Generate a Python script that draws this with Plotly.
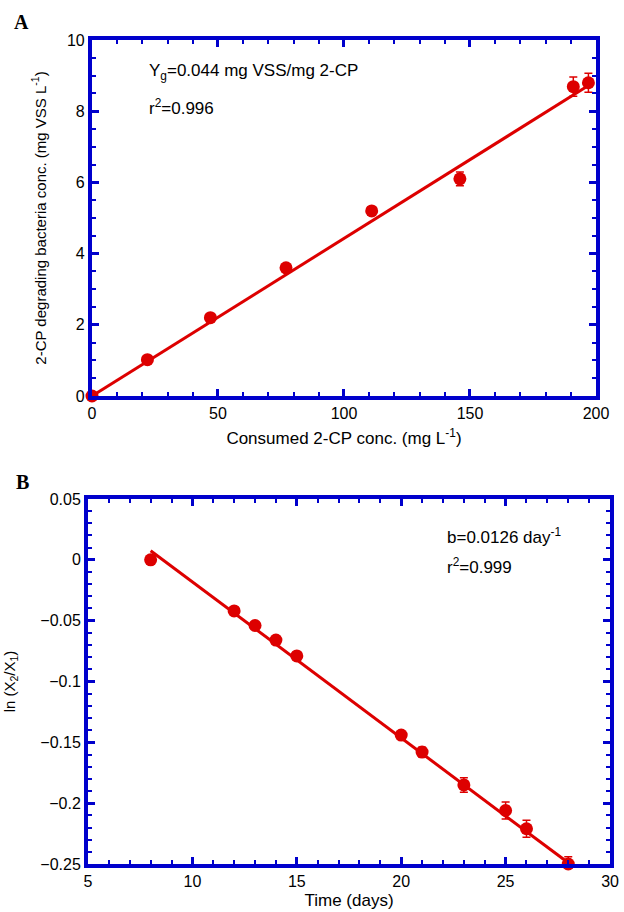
import plotly.graph_objects as go

# Panel A data
a_x = [0, 22, 47, 77, 111, 146, 191, 197]
a_y = [0.0, 1.02, 2.2, 3.6, 5.2, 6.1, 8.69, 8.8]
a_err = [0.0, 0.05, 0.06, 0.06, 0.12, 0.19, 0.27, 0.27]
a_fit_x = [0, 197]
a_fit_y = [0.0, 8.72]

# Panel B data
b_x = [8, 12, 13, 14, 15, 20, 21, 23, 25, 26, 28]
b_y = [0.0, -0.042, -0.054, -0.066, -0.079, -0.144, -0.158, -0.185, -0.206, -0.221, -0.25]
b_err = [0.0, 0.001, 0.001, 0.001, 0.001, 0.003, 0.004, 0.006, 0.007, 0.007, 0.006]
b_fit_x = [8, 28]
b_fit_y = [0.0075, -0.249]

RED = "#DD0000"
BLUE = "#0000CC"
FONT = "Liberation Sans, Arial, sans-serif"

fig = go.Figure()

fig.add_trace(go.Scatter(x=a_fit_x, y=a_fit_y, mode="lines",
                         line=dict(color=RED, width=3), xaxis="x", yaxis="y",
                         showlegend=False, cliponaxis=False))
fig.add_trace(go.Scatter(x=a_x, y=a_y, mode="markers",
                         marker=dict(color=RED, size=13),
                         error_y=dict(type="data", array=a_err, color=RED, thickness=1.5, width=4),
                         xaxis="x", yaxis="y", showlegend=False, cliponaxis=False))
fig.add_trace(go.Scatter(x=b_fit_x, y=b_fit_y, mode="lines",
                         line=dict(color=RED, width=3), xaxis="x2", yaxis="y2",
                         showlegend=False, cliponaxis=False))
fig.add_trace(go.Scatter(x=b_x, y=b_y, mode="markers",
                         marker=dict(color=RED, size=13),
                         error_y=dict(type="data", array=b_err, color=RED, thickness=1.5, width=4),
                         xaxis="x2", yaxis="y2", showlegend=False, cliponaxis=False))

def ax(domain, rng, dtick, minor_dtick, anchor, title, title_size=16, standoff=None):
    d = dict(domain=domain, range=rng, dtick=dtick, tick0=rng[0],
             showline=True, linecolor=BLUE, linewidth=4, mirror="allticks",
             ticks="inside", ticklen=7, tickwidth=3, tickcolor=BLUE,
             minor=dict(dtick=minor_dtick, ticks="inside", ticklen=4, tickwidth=2, tickcolor=BLUE),
             showgrid=False, zeroline=False, anchor=anchor, automargin=False,
             tickfont=dict(family=FONT, size=16, color="black"),
             title=dict(text=title, font=dict(family=FONT, size=title_size, color="black")))
    if standoff is not None:
        d["title"]["standoff"] = standoff
    return d

fig.update_layout(
    width=624, height=912,
    margin=dict(l=0, r=0, t=0, b=0, autoexpand=False),
    paper_bgcolor="white", plot_bgcolor="white",
    xaxis=ax([0.1474, 0.9551], [0, 200], 50, 10, "y", "Consumed 2-CP conc. (mg L<sup>-1</sup>)", title_size=17, standoff=12),
    yaxis=ax([0.5658, 0.9561], [0, 10], 2, 0.5, "x", "2-CP degrading bacteria conc. (mg VSS L<sup>-1</sup>)", title_size=15, standoff=18),
    xaxis2=ax([0.141, 0.9776], [5, 30], 5, 1, "y2", "Time (days)", title_size=17, standoff=6),
    yaxis2=ax([0.0526, 0.4529], [-0.25, 0.05], 0.05, 0.01, "x2", "ln (X<sub>2</sub>/X<sub>1</sub>)", title_size=15, standoff=22),
)

ann_font = dict(family=FONT, size=17, color="black")
annotations = [
    dict(text="Y<sub>g</sub>=0.044 mg VSS/mg 2-CP", x=147, y=72),
    dict(text="r<sup>2</sup>=0.996", x=147, y=107),
    dict(text="b=0.0126 day<sup>-1</sup>", x=445, y=536),
    dict(text="r<sup>2</sup>=0.999", x=445, y=566),
]
for a in annotations:
    fig.add_annotation(text=a["text"], x=a["x"] / 624, y=1 - a["y"] / 912, xref="paper", yref="paper",
                       xanchor="left", yanchor="middle", showarrow=False, font=ann_font)

letter_font = dict(family="Liberation Serif, Times New Roman, serif", size=20, color="black")
fig.add_annotation(text="<b>A</b>", x=12 / 624, y=1 - 22 / 912, xref="paper", yref="paper",
                   xanchor="left", yanchor="middle", showarrow=False, font=letter_font)
fig.add_annotation(text="<b>B</b>", x=14 / 624, y=1 - 482 / 912, xref="paper", yref="paper",
                   xanchor="left", yanchor="middle", showarrow=False, font=letter_font)

fig.write_html("out.html", config={"displayModeBar": False},
               post_script="document.body.style.margin='0';document.body.style.overflow='hidden';")
